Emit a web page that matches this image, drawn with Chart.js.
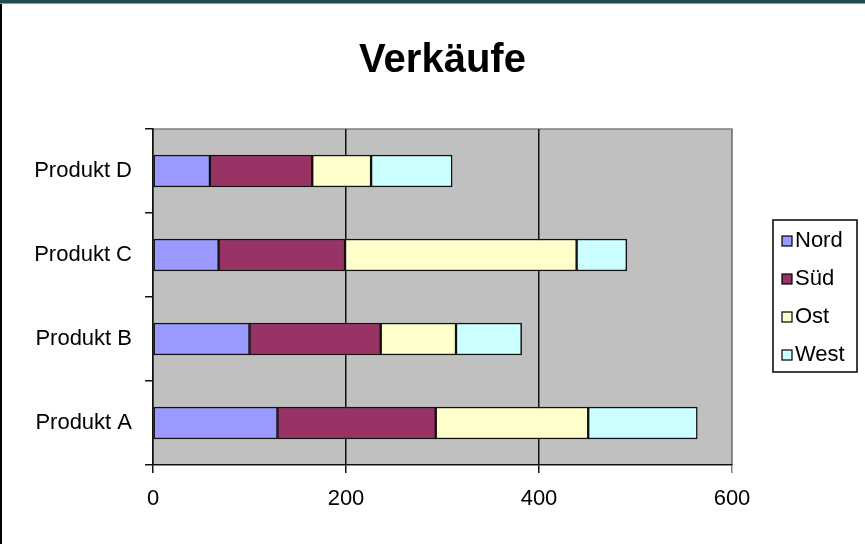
<!DOCTYPE html>
<html>
<head>
<meta charset="utf-8">
<script src="https://cdn.jsdelivr.net/npm/chart.js@4/dist/chart.umd.min.js"></script>
<style>
  html, body { margin: 0; padding: 0; background: #fff; }
  #wrap { position: relative; width: 865px; height: 544px; overflow: hidden; background: #fff; }
  #topStrip { position: absolute; left: 0; top: 0; width: 865px; height: 3px; background: #1f4e4d; border-bottom: 1px solid #9a9a9a; z-index: 2; }
  #leftEdge { position: absolute; left: 0; top: 4px; width: 2px; height: 540px; background: #000; z-index: 2; }
  canvas { position: absolute; left: 0; top: 0; }
</style>
</head>
<body>
<div id="wrap">
  <div id="topStrip"></div>
  <div id="leftEdge"></div>
  <canvas id="chart" width="865" height="544"></canvas>
</div>
<script>
// Daten
const produkte = ['Produkt A', 'Produkt B', 'Produkt C', 'Produkt D'];
const nord = [129, 100, 68, 59];
const sued = [164, 136, 131, 106];
const ost = [158, 78, 240, 61];
const west = [113, 68, 52, 84];
const xTicks = [0, 200, 400, 600];

const FONT = 'Liberation Sans, Arial, sans-serif';

// Grauer Hintergrund der Zeichenfläche
const plotBg = {
  id: 'plotBg',
  beforeDraw(chart) {
    const { ctx, chartArea: a } = chart;
    ctx.save();
    ctx.fillStyle = '#c0c0c0';
    ctx.fillRect(a.left, a.top, a.right - a.left, a.bottom - a.top);
    ctx.strokeStyle = '#808080';
    ctx.lineWidth = 1.5;
    ctx.beginPath();
    ctx.moveTo(a.left, a.top);
    ctx.lineTo(a.right, a.top);
    ctx.lineTo(a.right, a.bottom);
    ctx.stroke();
    ctx.restore();
  }
};

// Legende im Excel-Stil mit Rahmen
const boxLegend = {
  id: 'boxLegend',
  afterDraw(chart) {
    const { ctx } = chart;
    const a = chart.chartArea;
    const x = a.right + 41, y = 220, w = 84, h = 152;
    ctx.save();
    ctx.fillStyle = '#fff';
    ctx.fillRect(x, y, w, h);
    ctx.strokeStyle = '#000';
    ctx.lineWidth = 1.5;
    ctx.strokeRect(x, y, w, h);
    ctx.font = '22px ' + FONT;
    ctx.textBaseline = 'middle';
    chart.data.datasets.forEach((ds, i) => {
      const cy = y + 21 + i * 38;
      ctx.fillStyle = ds.backgroundColor;
      ctx.fillRect(x + 9, cy - 5, 10, 10);
      ctx.strokeStyle = '#000';
      ctx.lineWidth = 1.2;
      ctx.strokeRect(x + 9, cy - 5, 10, 10);
      ctx.fillStyle = '#000';
      ctx.fillText(ds.label, x + 22, cy);
    });
    ctx.restore();
  }
};

const mk = (label, data, color) => ({
  label, data,
  backgroundColor: color,
  borderColor: '#111',
  borderWidth: 1.5,
  borderSkipped: false,
  barThickness: 32
});

new Chart(document.getElementById('chart'), {
  type: 'bar',
  data: {
    labels: produkte,
    datasets: [
      mk('Nord', nord, '#9999ff'),
      mk('Süd', sued, '#993366'),
      mk('Ost', ost, '#ffffcc'),
      mk('West', west, '#ccffff')
    ]
  },
  options: {
    indexAxis: 'y',
    responsive: false,
    animation: false,
    layout: { padding: { left: 0, right: 133, top: 0, bottom: 0 } },
    plugins: {
      legend: { display: false },
      tooltip: { enabled: false },
      title: {
        display: true,
        text: 'Verkäufe',
        fullSize: false,
        color: '#000',
        font: { family: FONT, size: 40, weight: 'bold', lineHeight: 1.2 },
        padding: { top: 37, bottom: 44 }
      }
    },
    scales: {
      x: {
        stacked: true,
        min: 0, max: 600,
        afterBuildTicks: s => { s.ticks = xTicks.map(v => ({ value: v })); },
        afterFit: s => { s.height = 79; },
        border: { color: '#111', width: 1.5 },
        grid: {
          color: c => (c.tick && c.tick.value === 600 ? '#808080' : '#111'),
          lineWidth: 1.5,
          tickLength: 8,
          drawTicks: true
        },
        ticks: { color: '#000', padding: 13, font: { family: FONT, size: 22 } }
      },
      y: {
        stacked: true,
        reverse: true,
        afterFit: s => { s.width = 153; },
        border: { color: '#111', width: 1.5 },
        grid: {
          offset: true,
          drawOnChartArea: false,
          color: '#111',
          lineWidth: 1.5,
          tickLength: 8
        },
        ticks: { color: '#000', padding: 13, font: { family: FONT, size: 22 } }
      }
    }
  },
  plugins: [plotBg, boxLegend]
});
</script>
</body>
</html>
